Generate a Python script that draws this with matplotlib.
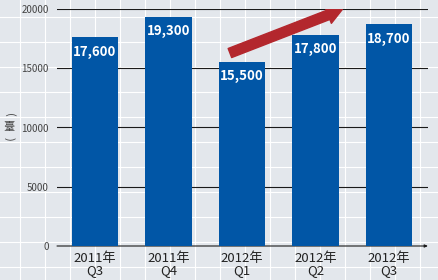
import matplotlib.pyplot as plt
from matplotlib.lines import Line2D
from matplotlib.patches import FancyArrowPatch

plt.rcParams['font.family'] = ['Noto Sans CJK TC', 'DejaVu Sans']

quarters = ["2011年\nQ3", "2011年\nQ4", "2012年\nQ1", "2012年\nQ2", "2012年\nQ3"]
units = [17600, 19300, 15500, 17800, 18700]
yticks = [0, 5000, 10000, 15000, 20000]

bg = "#e3e7ec"
bar_color = "#0156a6"
arrow_color = "#b3272d"

fig = plt.figure(figsize=(4.39, 2.80), dpi=100)
fig.patch.set_facecolor(bg)

# white background grid every ~25px
W, H = 439.0, 280.0
for px in range(20, 439, 25):
    fig.add_artist(Line2D([px / W, px / W], [0, 1], color="white", lw=0.8, zorder=0))
for py in range(17, 280, 25):
    fig.add_artist(Line2D([0, 1], [1 - py / H, 1 - py / H], color="white", lw=0.8, zorder=0))

ax = fig.add_axes([57 / W, 1 - 246 / H, (428 - 57) / W, (246 - 9) / H])
ax.set_facecolor("none")
for s in ax.spines.values():
    s.set_visible(False)

x = list(range(len(units)))
ax.set_xlim(-0.517, 4.53)
ax.set_ylim(0, 20000)

for v in yticks[1:]:
    ax.axhline(v, color="#1a1a1a", lw=0.8, zorder=1)
# zero line with small arrow head
ax.annotate("", xy=(4.53, 0), xytext=(-0.517, 0),
            arrowprops=dict(arrowstyle="-|>,head_width=0.08,head_length=0.18", color="#1a1a1a", lw=0.8,
                            shrinkA=0, shrinkB=0), annotation_clip=False, zorder=1)

ax.bar(x, units, width=0.63, color=bar_color, zorder=2)
for i, v in enumerate(units):
    ax.text(i, v - 600, f"{v:,}", ha="center", va="top", color="white",
            fontsize=9.5, fontweight="bold", zorder=3)

ax.set_yticks(yticks)
ax.set_yticklabels([str(t) for t in yticks], fontsize=7, color="#444444")
ax.tick_params(axis="y", length=0, pad=6)
ax.set_xticks(x)
ax.set_xticklabels(quarters, fontsize=9.5, color="#222222", linespacing=0.95)
ax.tick_params(axis="x", length=0, pad=4)

# vertical unit label: parentheses turned sideways, character upright
lx = 9 / W
fig.text(lx, 1 - 115 / H, "(", fontsize=8, color="#444444", ha="center", va="center", rotation=-90)
fig.text(lx, 1 - 127 / H, "臺", fontsize=8, color="#444444", ha="center", va="center")
fig.text(lx, 1 - 139 / H, ")", fontsize=8, color="#444444", ha="center", va="center", rotation=-90)

arrow = FancyArrowPatch((1.8, 16200), (3.4, 20050),
                        arrowstyle="simple,tail_width=0.7,head_width=1.3,head_length=1.1",
                        mutation_scale=10, color=arrow_color, zorder=4)
ax.add_patch(arrow)

fig.savefig("out.png", dpi=100, facecolor=bg)
